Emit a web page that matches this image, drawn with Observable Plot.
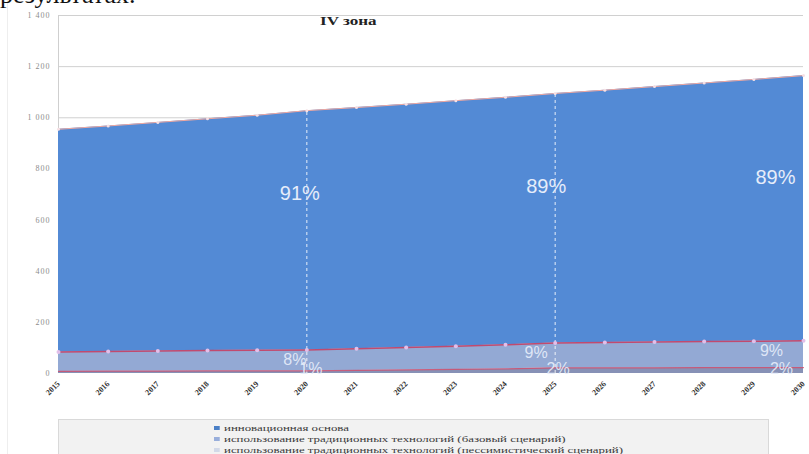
<!DOCTYPE html>
<html>
<head>
<meta charset="utf-8">
<script src="https://cdn.jsdelivr.net/npm/d3@7"></script>
<script src="https://cdn.jsdelivr.net/npm/@observablehq/plot@0.6"></script>
<style>
  body { margin: 0; background: #fff; }
  #wrap { position: relative; width: 809px; height: 454px; overflow: hidden; background: #fff; }
  #toptext { position: absolute; left: 0; top: -20px; font: 26px "Liberation Serif", serif; color: #111; white-space: nowrap; }
  #chart { position: absolute; left: 0; top: 0; }
  #title { position: absolute; left: 320px; top: 14px; font: bold 12px "Liberation Serif", serif; color: #222; transform: scaleX(1.42); transform-origin: left center; white-space: nowrap; }
  #legend { position: absolute; left: 58px; top: 419px; width: 711px; height: 50px; background: #f2f2f2; border: 1px solid #d9d9d9; box-sizing: border-box; }
  .item { position: absolute; left: 155px; font: 9px "Liberation Serif", serif; color: #3a3a3a; white-space: nowrap; line-height: 10px; transform: scaleX(1.43); transform-origin: left center; }
  .sw { display: inline-block; width: 4px; height: 4px; margin-right: 3px; vertical-align: 1px; }
  #vborder { position: absolute; left: 7px; top: 0; width: 1px; height: 454px; background: #eeeeee; }
</style>
</head>
<body>
<div id="wrap">
  <div id="vborder"></div>
  <div id="toptext">результатах.</div>
  <div id="chart"></div>
  <div id="title"></div>
  <div id="legend"></div>
</div>
<script>
// ---- data ----
const years = [2015, 2016, 2017, 2018, 2019, 2020, 2021, 2022, 2023, 2024, 2025, 2026, 2027, 2028, 2029, 2030];
const innovation = [871, 882, 894, 906, 919, 936, 943, 951, 960, 968, 976, 987, 999, 1011, 1024, 1037];
const baseTrad   = [76, 77, 79, 80, 81, 82, 85, 88, 91, 94, 97, 99, 101, 102, 103, 105];
const pessTrad   = [8, 9, 9, 10, 10, 10, 12, 14, 16, 18, 22, 22, 22, 23, 23, 23];
const seriesNames = [
  "инновационная основа",
  "использование традиционных технологий (базовый сценарий)",
  "использование традиционных технологий (пессимистический сценарий)"
];
const yTicks = [0, 200, 400, 600, 800, 1000, 1200, 1400];
const yTickLabels = ["0", "200", "400", "600", "800", "1 000", "1 200", "1 400"];
const shareYears = [2020, 2025, 2030];
const shareInnov = ["91%", "89%", "89%"];
const shareBase = ["8%", "9%", "9%"];
const sharePess = ["1%", "2%", "2%"];
const chartTitle = "IV зона";

// ---- derived tables ----
const colors = ["#538ad5", "#93a9d4", "#8791b6"];
const rows = [];
years.forEach((yr, i) => {
  rows.push({year: yr, series: seriesNames[2], value: pessTrad[i]});
  rows.push({year: yr, series: seriesNames[1], value: baseTrad[i]});
  rows.push({year: yr, series: seriesNames[0], value: innovation[i]});
});
const pts = years.map((yr, i) => ({
  year: yr,
  pess: pessTrad[i],
  lower: pessTrad[i] + baseTrad[i],
  total: pessTrad[i] + baseTrad[i] + innovation[i]
}));
const shareRows = shareYears.map((yr, k) => {
  const p = pts.find(d => d.year === yr);
  return {year: yr, k, innov: shareInnov[k], base: shareBase[k], pess: sharePess[k], total: p.total, lower: p.lower};
});
// label placement (annotation offsets)
const innovY = [704, 731, 766];
const innovDx = [-7, -9, -28];
const baseDx = [-12, -19, -32];
const pessDx = [4, 3, -22];

const labelFill = "#e6edfa";
const sans = "'Liberation Sans', Arial, sans-serif";

const marks = [
  Plot.gridY([1000, 1200, 1400], {stroke: "#d0d0d0", strokeOpacity: 1, strokeWidth: 1}),
  Plot.ruleX([2015], {y1: 0, y2: 1400, stroke: "#cfcfcf"}),
  Plot.areaY(rows, {x: "year", y: "value", fill: "series", order: [seriesNames[2], seriesNames[1], seriesNames[0]], curve: "linear"}),
  Plot.ruleX(shareRows.filter(d => d.year !== 2030), {x: "year", y1: 0, y2: "total", stroke: "#ffffff", strokeDasharray: "3,3", strokeOpacity: 0.85}),
  Plot.line(pts, {x: "year", y: "total", stroke: "#f0a8a0", strokeWidth: 1}),
  Plot.dot(pts, {x: "year", y: "total", r: 1.5, fill: "#f6e0e4", stroke: null}),
  Plot.line(pts, {x: "year", y: "lower", stroke: "#c24a6e", strokeWidth: 1.5}),
  Plot.dot(pts, {x: "year", y: "lower", r: 2, fill: "#e2bfe9", stroke: null}),
  Plot.line(pts, {x: "year", y: "pess", stroke: "#d44c6a", strokeWidth: 1.2, strokeOpacity: 0.8}),
  Plot.axisY(yTicks, {tickFormat: d => yTickLabels[yTicks.indexOf(d)], tickSize: 0, tickPadding: 8, fontSize: 8, fill: "#8c8c8c", label: null}),
  Plot.axisX(years, {tickFormat: d => String(d), tickRotate: -45, tickSize: 0, tickPadding: 9, fontSize: 8, fontWeight: "bold", fontFamily: "'Liberation Serif', serif", fill: "#333", label: null})
];

shareRows.forEach((d, k) => {
  marks.push(Plot.text([d], {x: "year", y: innovY[k], dx: innovDx[k], text: "innov", fill: labelFill, fontSize: 20, fontFamily: sans}));
  marks.push(Plot.text([d], {x: "year", y: d.lower - 38, dx: baseDx[k], text: "base", fill: labelFill, fillOpacity: 0.92, fontSize: 16, fontFamily: sans}));
  marks.push(Plot.text([d], {x: "year", y: 18, dx: pessDx[k], text: "pess", fill: labelFill, fillOpacity: 0.92, fontSize: 16, fontFamily: sans}));
});

const chart = Plot.plot({
  width: 809,
  height: 410,
  marginLeft: 58,
  marginRight: 6,
  marginTop: 15,
  marginBottom: 37,
  x: {domain: [2015, 2030], axis: null},
  y: {domain: [0, 1400], axis: null},
  color: {domain: seriesNames, range: colors},
  style: {background: "transparent", fontFamily: "'Liberation Serif', serif"},
  marks
});
d3.select(chart).selectAll('[aria-label="y-axis tick label"] text').style("letter-spacing", "1px");
document.getElementById("chart").appendChild(chart);
document.getElementById("title").textContent = chartTitle;

// legend
const leg = document.getElementById("legend");
const legColors = ["#4a7fc6", "#98aedb", "#d2d9e8"];
seriesNames.forEach((name, i) => {
  const div = document.createElement("div");
  div.className = "item";
  div.style.top = (3 + i * 11) + "px";
  div.innerHTML = `<span class="sw" style="background:${legColors[i]}"></span>`;
  div.appendChild(document.createTextNode(name));
  leg.appendChild(div);
});
</script>
</body>
</html>
